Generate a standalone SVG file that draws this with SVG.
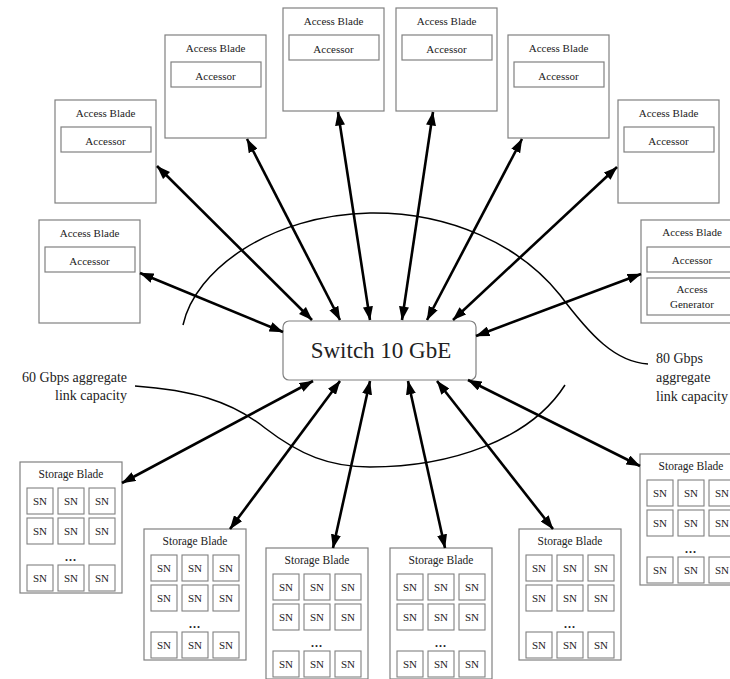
<svg xmlns="http://www.w3.org/2000/svg" width="730" height="679" viewBox="0 0 730 679" font-family="'Liberation Serif', 'Times New Roman', serif">
<style>
.box{fill:#fff;stroke:#808080;stroke-width:1.2}
.sn{fill:#fff;stroke:#808080;stroke-width:1.1}
text{font-family:'Liberation Serif','Times New Roman',serif;fill:#222;text-anchor:middle}
.t11{font-size:11px}
.t115{font-size:11.5px}
.lab{font-size:14px}
.arr{stroke:#000;stroke-width:2.6;fill:none;marker-start:url(#ah);marker-end:url(#ah)}
.arc{stroke:#000;stroke-width:1.5;fill:none}
</style>
<defs>
<marker id="ah" viewBox="0 0 14 10" refX="13.5" refY="5" markerWidth="14" markerHeight="10" markerUnits="userSpaceOnUse" orient="auto-start-reverse">
<path d="M0,0 L14,5 L0,10 Z" fill="#000"/>
</marker>
<g id="sb">
<rect class="box" width="102" height="131"/>
<text class="t115" x="51" y="16">Storage Blade</text>
<rect class="sn" x="7" y="26" width="26" height="26"/><text class="t11" x="20" y="43">SN</text>
<rect class="sn" x="38" y="26" width="26" height="26"/><text class="t11" x="51" y="43">SN</text>
<rect class="sn" x="69" y="26" width="26" height="26"/><text class="t11" x="82" y="43">SN</text>
<rect class="sn" x="7" y="56" width="26" height="26"/><text class="t11" x="20" y="73">SN</text>
<rect class="sn" x="38" y="56" width="26" height="26"/><text class="t11" x="51" y="73">SN</text>
<rect class="sn" x="69" y="56" width="26" height="26"/><text class="t11" x="82" y="73">SN</text>
<text x="51" y="99" font-size="12" font-weight="bold" letter-spacing="1">...</text>
<rect class="sn" x="7" y="103" width="26" height="26"/><text class="t11" x="20" y="120">SN</text>
<rect class="sn" x="38" y="103" width="26" height="26"/><text class="t11" x="51" y="120">SN</text>
<rect class="sn" x="69" y="103" width="26" height="26"/><text class="t11" x="82" y="120">SN</text>
</g>
<g id="ab">
<rect class="box" width="101" height="103"/>
<text class="t11" x="50.5" y="17">Access Blade</text>
<rect class="box" x="6" y="27" width="90" height="25"/>
<text class="t11" x="50.5" y="44.5">Accessor</text>
</g>
</defs>
<rect width="730" height="679" fill="#fff"/>

<g id="arcs">
<path class="arc" d="M183,325 C195,270 270,215 370,213 C450,212 520,245 560,295 C590,335 615,362 648,364"/>
<path class="arc" d="M135,386 C190,390 230,400 265,428 C300,455 330,467 370,467 C450,467 530,440 565,385"/>
</g>

<g id="access-a"><use href="#ab" x="55" y="100"/></g>
<g id="access-b"><use href="#ab" x="165" y="35"/></g>
<g id="access-c"><use href="#ab" x="283" y="8"/></g>
<g id="access-d"><use href="#ab" x="396" y="8"/></g>
<g id="access-e"><use href="#ab" x="508" y="35"/></g>
<g id="access-f"><use href="#ab" x="618" y="100"/></g>
<g id="access-g"><use href="#ab" x="39" y="220"/></g>
<g id="access-h" transform="translate(641,220)">
<rect class="box" width="102" height="103"/>
<text class="t11" x="51" y="16">Access Blade</text>
<rect class="box" x="6" y="27" width="90" height="25"/>
<text class="t11" x="51" y="44">Accessor</text>
<rect class="box" x="6" y="58" width="90" height="37"/>
<text class="t11" x="51" y="73">Access</text>
<text class="t11" x="51" y="88">Generator</text>
</g>

<g id="storage-1"><use href="#sb" x="20" y="462"/></g>
<g id="storage-2"><use href="#sb" x="144" y="529"/></g>
<g id="storage-3"><use href="#sb" x="266" y="548"/></g>
<g id="storage-4"><use href="#sb" x="390" y="548"/></g>
<g id="storage-5"><use href="#sb" x="519" y="529"/></g>
<g id="storage-6"><use href="#sb" x="640" y="454"/></g>

<g id="switch">
<rect x="283" y="321" width="193" height="59" rx="6" fill="#fff" stroke="#808080" stroke-width="1.2"/>
<text x="381" y="358" font-size="23">Switch 10 GbE</text>
</g>

<g id="labels">
<text class="lab" x="127" y="382" style="text-anchor:end">60 Gbps aggregate</text>
<text class="lab" x="127" y="400" style="text-anchor:end">link capacity</text>
<text class="lab" x="656" y="363" style="text-anchor:start">80 Gbps</text>
<text class="lab" x="656" y="382" style="text-anchor:start">aggregate</text>
<text class="lab" x="656" y="401" style="text-anchor:start">link capacity</text>
</g>

<g id="connectors">
<line class="arr" x1="157" y1="166" x2="312" y2="320"/>
<line class="arr" x1="247" y1="139" x2="340" y2="320"/>
<line class="arr" x1="338" y1="112" x2="370" y2="320"/>
<line class="arr" x1="433" y1="112" x2="402" y2="320"/>
<line class="arr" x1="522" y1="139" x2="427" y2="320"/>
<line class="arr" x1="617" y1="167" x2="453" y2="320"/>
<line class="arr" x1="140" y1="273" x2="283" y2="332"/>
<line class="arr" x1="641" y1="274" x2="476" y2="336"/>
<line class="arr" x1="313" y1="381" x2="122" y2="483"/>
<line class="arr" x1="340" y1="381" x2="230" y2="529"/>
<line class="arr" x1="370" y1="381" x2="333" y2="548"/>
<line class="arr" x1="408" y1="381" x2="445" y2="548"/>
<line class="arr" x1="437" y1="381" x2="553" y2="529"/>
<line class="arr" x1="468" y1="380" x2="640" y2="466"/>
</g>
</svg>
